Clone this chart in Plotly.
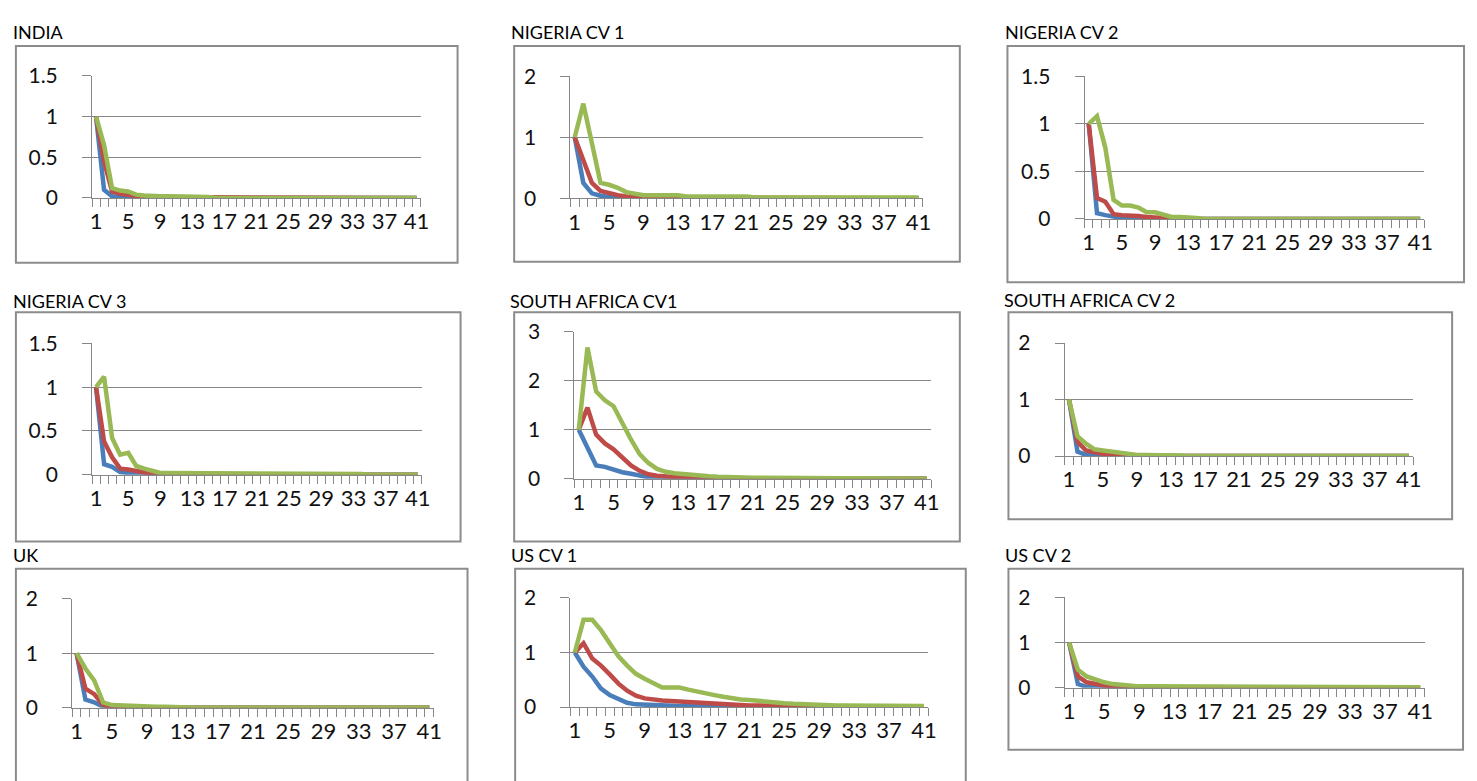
import plotly.graph_objects as go

W, H = 1477, 781

x_values = list(range(1, 42))
x_tick_vals = [1, 5, 9, 13, 17, 21, 25, 29, 33, 37, 41]
x_tick_text = ["1", "5", "9", "13", "17", "21", "25", "29", "33", "37", "41"]

titles = ["INDIA", "NIGERIA CV 1", "NIGERIA CV 2", "NIGERIA CV 3", "SOUTH AFRICA CV1",
          "SOUTH AFRICA CV 2", "UK", "US CV 1", "US CV 2"]

# ---- data (41 points each: blue, red, green) ----
india_blue = [1, 0.1, 0.02, 0.01, 0.01, 0, 0, 0, 0, 0,
              0, 0, 0, 0, 0, 0, 0, 0, 0, 0,
              0, 0, 0, 0, 0, 0, 0, 0, 0, 0,
              0, 0, 0, 0, 0, 0, 0, 0, 0, 0, 0]
india_red = [1, 0.45, 0.08, 0.05, 0.04, 0.02, 0.01, 0.01, 0.01, 0.01,
             0.01, 0.01, 0, 0, 0, 0, 0, 0, 0, 0,
             0, 0, 0, 0, 0, 0, 0, 0, 0, 0,
             0, 0, 0, 0, 0, 0, 0, 0, 0, 0, 0]
india_green = [1, 0.65, 0.12, 0.09, 0.08, 0.04, 0.03, 0.02, 0.02, 0.02,
               0.02, 0.02, 0.01, 0.01, 0.01, 0, 0, 0, 0, 0,
               0, 0, 0, 0, 0, 0, 0, 0, 0, 0,
               0, 0, 0, 0, 0, 0, 0, 0, 0, 0, 0]

ng1_blue = [1, 0.25, 0.08, 0.04, 0.02, 0.01, 0.01, 0, 0, 0,
            0, 0, 0, 0, 0, 0, 0, 0, 0, 0,
            0, 0, 0, 0, 0, 0, 0, 0, 0, 0,
            0, 0, 0, 0, 0, 0, 0, 0, 0, 0, 0]
ng1_red = [1, 0.6, 0.25, 0.12, 0.08, 0.05, 0.03, 0.02, 0.01, 0.01,
           0.01, 0.01, 0.01, 0.01, 0, 0, 0, 0, 0, 0,
           0, 0, 0, 0, 0, 0, 0, 0, 0, 0,
           0, 0, 0, 0, 0, 0, 0, 0, 0, 0, 0]
ng1_green = [1, 1.55, 0.9, 0.25, 0.22, 0.17, 0.1, 0.07, 0.05, 0.05,
             0.05, 0.05, 0.05, 0.03, 0.03, 0.03, 0.03, 0.03, 0.03, 0.03,
             0.03, 0.01, 0.01, 0.01, 0.01, 0.01, 0.01, 0.01, 0.01, 0.01,
             0.01, 0.01, 0.01, 0.01, 0.01, 0.01, 0.01, 0.01, 0.01, 0.01, 0.01]

ng2_blue = [1, 0.06, 0.04, 0.02, 0.01, 0.01, 0, 0, 0, 0,
            0, 0, 0, 0, 0, 0, 0, 0, 0, 0,
            0, 0, 0, 0, 0, 0, 0, 0, 0, 0,
            0, 0, 0, 0, 0, 0, 0, 0, 0, 0, 0]
ng2_red = [1, 0.22, 0.18, 0.05, 0.04, 0.04, 0.03, 0.02, 0.02, 0.01,
           0, 0, 0, 0, 0, 0, 0, 0, 0, 0,
           0, 0, 0, 0, 0, 0, 0, 0, 0, 0,
           0, 0, 0, 0, 0, 0, 0, 0, 0, 0, 0]
ng2_green = [1, 1.08, 0.75, 0.2, 0.14, 0.14, 0.12, 0.07, 0.07, 0.04,
             0.02, 0.02, 0.02, 0.01, 0, 0, 0, 0, 0, 0,
             0, 0, 0, 0, 0, 0, 0, 0, 0, 0,
             0, 0, 0, 0, 0, 0, 0, 0, 0, 0, 0]

ng3_blue = [1, 0.12, 0.09, 0.03, 0.02, 0.01, 0, 0, 0, 0,
            0, 0, 0, 0, 0, 0, 0, 0, 0, 0,
            0, 0, 0, 0, 0, 0, 0, 0, 0, 0,
            0, 0, 0, 0, 0, 0, 0, 0, 0, 0, 0]
ng3_red = [1, 0.38, 0.2, 0.07, 0.06, 0.04, 0.02, 0.01, 0, 0,
           0, 0, 0, 0, 0, 0, 0, 0, 0, 0,
           0, 0, 0, 0, 0, 0, 0, 0, 0, 0,
           0, 0, 0, 0, 0, 0, 0, 0, 0, 0, 0]
ng3_green = [1, 1.12, 0.42, 0.23, 0.25, 0.1, 0.07, 0.05, 0.02, 0.02,
             0.02, 0.02, 0.01, 0.01, 0.01, 0.01, 0.01, 0.01, 0.01, 0.01,
             0.01, 0.01, 0.01, 0.01, 0.01, 0.01, 0.01, 0.01, 0.01, 0.01,
             0.01, 0.01, 0.01, 0.01, 0, 0, 0, 0, 0, 0, 0]

sa1_blue = [1, 0.62, 0.27, 0.24, 0.18, 0.13, 0.1, 0.06, 0.03, 0.02,
            0.01, 0.01, 0, 0, 0, 0, 0, 0, 0, 0,
            0, 0, 0, 0, 0, 0, 0, 0, 0, 0,
            0, 0, 0, 0, 0, 0, 0, 0, 0, 0, 0]
sa1_red = [1, 1.45, 0.9, 0.72, 0.6, 0.42, 0.27, 0.16, 0.09, 0.06,
           0.04, 0.03, 0.02, 0.02, 0.01, 0.01, 0.01, 0.01, 0, 0,
           0, 0, 0, 0, 0, 0, 0, 0, 0, 0,
           0, 0, 0, 0, 0, 0, 0, 0, 0, 0, 0]
sa1_green = [1, 2.68, 1.78, 1.6, 1.48, 1.12, 0.8, 0.5, 0.32, 0.2,
             0.14, 0.11, 0.09, 0.07, 0.06, 0.05, 0.04, 0.03, 0.03, 0.02,
             0.02, 0.02, 0.02, 0.02, 0.02, 0.01, 0, 0, 0, 0,
             0, 0, 0, 0, 0, 0, 0, 0, 0, 0, 0]

sa2_blue = [1, 0.08, 0.02, 0.01, 0, 0, 0, 0, 0, 0,
            0, 0, 0, 0, 0, 0, 0, 0, 0, 0,
            0, 0, 0, 0, 0, 0, 0, 0, 0, 0,
            0, 0, 0, 0, 0, 0, 0, 0, 0, 0, 0]
sa2_red = [1, 0.25, 0.1, 0.06, 0.04, 0.03, 0.02, 0.01, 0.01, 0,
           0, 0, 0, 0, 0, 0, 0, 0, 0, 0,
           0, 0, 0, 0, 0, 0, 0, 0, 0, 0,
           0, 0, 0, 0, 0, 0, 0, 0, 0, 0, 0]
sa2_green = [1, 0.35, 0.22, 0.12, 0.1, 0.08, 0.06, 0.04, 0.02, 0.02,
             0.02, 0.02, 0.01, 0.01, 0, 0, 0, 0, 0, 0,
             0, 0, 0, 0, 0, 0, 0, 0, 0, 0,
             0, 0, 0, 0, 0, 0, 0, 0, 0, 0, 0]

uk_blue = [1, 0.15, 0.1, 0.02, 0.01, 0, 0, 0, 0, 0,
           0, 0, 0, 0, 0, 0, 0, 0, 0, 0,
           0, 0, 0, 0, 0, 0, 0, 0, 0, 0,
           0, 0, 0, 0, 0, 0, 0, 0, 0, 0, 0]
uk_red = [1, 0.35, 0.25, 0.05, 0.02, 0.01, 0.01, 0, 0, 0,
          0, 0, 0, 0, 0, 0, 0, 0, 0, 0,
          0, 0, 0, 0, 0, 0, 0, 0, 0, 0,
          0, 0, 0, 0, 0, 0, 0, 0, 0, 0, 0]
uk_green = [1, 0.72, 0.5, 0.1, 0.05, 0.04, 0.03, 0.02, 0.02, 0.02,
            0.02, 0.01, 0.01, 0, 0, 0, 0, 0, 0, 0,
            0, 0, 0, 0, 0, 0, 0, 0, 0, 0,
            0, 0, 0, 0, 0, 0, 0, 0, 0, 0, 0]

us1_blue = [1, 0.74, 0.56, 0.34, 0.22, 0.14, 0.08, 0.05, 0.04, 0.03,
            0.03, 0.03, 0.02, 0.02, 0.01, 0.01, 0.01, 0, 0, 0,
            0, 0, 0, 0, 0, 0, 0, 0, 0, 0,
            0, 0, 0, 0, 0, 0, 0, 0, 0, 0, 0]
us1_red = [1, 1.17, 0.89, 0.76, 0.6, 0.43, 0.3, 0.21, 0.16, 0.13,
           0.12, 0.11, 0.1, 0.09, 0.08, 0.07, 0.06, 0.05, 0.05, 0.04,
           0.03, 0.03, 0.02, 0.02, 0.02, 0.02, 0.01, 0.01, 0.01, 0.01,
           0.01, 0.01, 0.01, 0.01, 0, 0, 0, 0, 0, 0, 0]
us1_green = [1, 1.6, 1.6, 1.41, 1.17, 0.93, 0.76, 0.61, 0.52, 0.43,
             0.36, 0.36, 0.36, 0.32, 0.28, 0.25, 0.22, 0.19, 0.16, 0.14,
             0.13, 0.11, 0.09, 0.08, 0.07, 0.06, 0.05, 0.04, 0.04, 0.03,
             0.03, 0.03, 0.03, 0.03, 0.03, 0.02, 0.02, 0.02, 0.02, 0.02, 0.02]

us2_blue = [1, 0.08, 0.02, 0.01, 0, 0, 0, 0, 0, 0,
            0, 0, 0, 0, 0, 0, 0, 0, 0, 0,
            0, 0, 0, 0, 0, 0, 0, 0, 0, 0,
            0, 0, 0, 0, 0, 0, 0, 0, 0, 0, 0]
us2_red = [1, 0.25, 0.12, 0.08, 0.05, 0.03, 0.02, 0.01, 0.01, 0,
           0, 0, 0, 0, 0, 0, 0, 0, 0, 0,
           0, 0, 0, 0, 0, 0, 0, 0, 0, 0,
           0, 0, 0, 0, 0, 0, 0, 0, 0, 0, 0]
us2_green = [1, 0.4, 0.25, 0.18, 0.12, 0.08, 0.06, 0.05, 0.03, 0.03,
             0.03, 0.03, 0.02, 0.02, 0.02, 0.01, 0.01, 0.01, 0.01, 0.01,
             0.01, 0.01, 0.01, 0.01, 0.01, 0.01, 0.01, 0.01, 0.01, 0.01,
             0.01, 0.01, 0.01, 0.01, 0.01, 0.01, 0.01, 0.01, 0.01, 0.01, 0.01]

series = [
    (india_blue, india_red, india_green),
    (ng1_blue, ng1_red, ng1_green),
    (ng2_blue, ng2_red, ng2_green),
    (ng3_blue, ng3_red, ng3_green),
    (sa1_blue, sa1_red, sa1_green),
    (sa2_blue, sa2_red, sa2_green),
    (uk_blue, uk_red, uk_green),
    (us1_blue, us1_red, us1_green),
    (us2_blue, us2_red, us2_green),
]
y_max = [1.5, 2, 1.5, 1.5, 3, 2, 2, 2, 2]
y_dtick = [0.5, 1, 0.5, 0.5, 1, 1, 1, 1, 1]

# ---- layout geometry (pixels) ----
plot_px = [
    (90.7, 421.7, 64, 190),
    (572.7, 927.7, 64.3, 190.3),
    (1090.7, 1433, 64.3, 211.7),
    (90.7, 423, 340.3, 476),
    (576.7, 936, 328.3, 480),
    (1070.7, 1421.7, 340, 456.7),
    (70.7, 435, 604, 716.7),
    (572.7, 933.3, 603.3, 716),
    (1070.7, 1433.3, 602.7, 696),
]
box_px = [
    (14, 459, 33, 257),
    (516, 965, 33, 256),
    (1013, 1473, 33, 277),
    (14, 462, 308, 545),
    (516, 965, 308, 545),
    (1014, 1461, 308, 522),
    (14, 469, 573, 800),
    (517, 971, 573, 800),
    (1014, 1472, 573, 760),
]
title_px = [
    (9, 19), (511, 19), (1009, 19),
    (9, 296), (510, 296), (1008, 295),
    (9, 559), (511, 559), (1009, 559),
]

colors = ["#4A7EBB", "#BE4B48", "#98B954"]
grid_col = "#878787"
font_family = "Lato, 'Open Sans', sans-serif"

fig = go.Figure()
layout = dict(
    width=W, height=H,
    margin=dict(l=0, r=0, t=0, b=0),
    paper_bgcolor="white", plot_bgcolor="white",
    showlegend=False,
    font=dict(family=font_family, color="black"),
)

shapes = []
annotations = []
minor_vals = [k + 0.5 for k in range(0, 42)]

for i in range(9):
    n = "" if i == 0 else str(i + 1)
    xl, xr, yt, yb = plot_px[i]
    for s, col in zip(series[i], colors):
        fig.add_trace(go.Scatter(
            x=x_values, y=s, mode="lines",
            line=dict(color=col, width=4.5),
            xaxis="x" + n, yaxis="y" + n, hoverinfo="skip",
        ))
    layout["xaxis" + n] = dict(
        domain=[xl / W, xr / W], anchor="y" + n,
        range=[0.5, 41.5], tickmode="array",
        tickvals=x_tick_vals, ticktext=x_tick_text,
        ticks="", showgrid=False, zeroline=False,
        showline=True, linecolor=grid_col, linewidth=1,
        tickfont=dict(size=22, family=font_family, color="#111"),
        ticklabelstandoff=4,
        minor=dict(tickmode="array", tickvals=minor_vals, ticks="outside",
                   ticklen=8, tickwidth=1, tickcolor=grid_col, showgrid=False),
        fixedrange=True,
    )
    layout["yaxis" + n] = dict(
        domain=[1 - yb / H, 1 - yt / H], anchor="x" + n,
        range=[0, y_max[i]], dtick=y_dtick[i], tick0=0,
        ticks="outside", ticklen=9, tickwidth=1, tickcolor=grid_col,
        showgrid=True, gridcolor=grid_col, gridwidth=1,
        zeroline=False, showline=True, linecolor=grid_col, linewidth=1,
        tickfont=dict(size=21, family=font_family, color="#111"),
        ticklabelstandoff=20,
        fixedrange=True,
    )
    bl, br, bt, bb = box_px[i]
    shapes.append(dict(type="rect", xref="paper", yref="paper",
                       x0=bl / W, x1=br / W, y0=1 - bb / H, y1=1 - bt / H,
                       line=dict(color="#8C8C8C", width=2), fillcolor="rgba(0,0,0,0)",
                       layer="below"))
    tx, ty = title_px[i]
    annotations.append(dict(text=titles[i], xref="paper", yref="paper",
                            x=tx / W, y=1 - ty / H, xanchor="left", yanchor="middle",
                            showarrow=False,
                            font=dict(size=18, family=font_family, color="black")))

layout["shapes"] = shapes
layout["annotations"] = annotations
fig.update_layout(**layout)
fig.write_html(
    "out.html",
    config={"displayModeBar": False, "staticPlot": True},
    post_script="document.body.style.margin='0';document.body.style.overflow='hidden';",
)
